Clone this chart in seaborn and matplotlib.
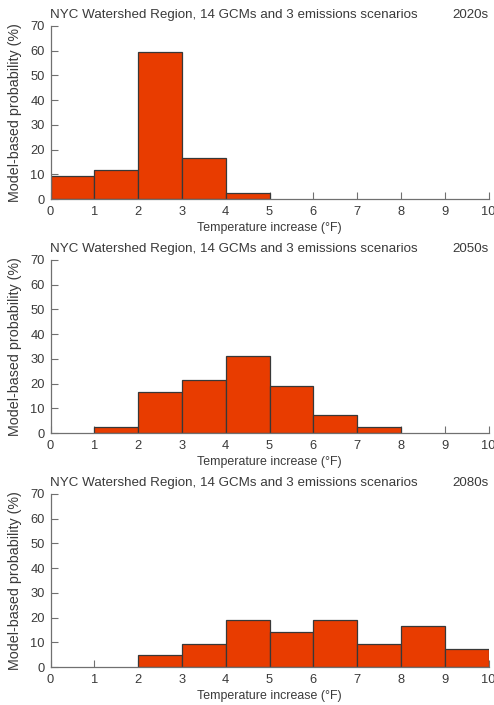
import numpy as np
import pandas as pd
import matplotlib
matplotlib.use("Agg")
import matplotlib.pyplot as plt
import seaborn as sns

# bin edges (deg F) and model-based probability (%) per bin, 42 model runs
edges = np.arange(0, 11)
periods = ["2020s", "2050s", "2080s"]
prob_2020s = [9.5, 11.9, 59.5, 16.7, 2.4, 0, 0, 0, 0, 0]
prob_2050s = [0, 2.4, 16.7, 21.4, 31.0, 19.0, 7.1, 2.4, 0, 0]
prob_2080s = [0, 0, 4.8, 9.5, 19.0, 14.3, 19.0, 9.5, 16.7, 7.1]
title = "NYC Watershed Region, 14 GCMs and 3 emissions scenarios"
xlabel = "Temperature increase (\u00b0F)"
ylabel = "Model-based probability (%)"

sns.set_style("ticks")
plt.rcParams["font.family"] = ["Liberation Sans", "DejaVu Sans"]
text_col = "#3a3a3a"

fig = plt.figure(figsize=(4.94, 7.05), dpi=100)
bottoms = [1 - 199 / 705, 1 - 433 / 705, 1 - 667 / 705]
height = 173 / 705

for period, probs, bot in zip(periods, [prob_2020s, prob_2050s, prob_2080s], bottoms):
    ax = fig.add_axes([50.5 / 494, bot, 438 / 494, height])
    df = pd.DataFrame({"temp": edges[:-1] + 0.5, "prob": probs})
    sns.histplot(data=df, x="temp", weights="prob", binwidth=1, binrange=(0, 10),
                 ax=ax, color="#E83C00", alpha=1, edgecolor="#383838", linewidth=0.9)
    # drop empty bins
    for p in list(ax.patches):
        if p.get_height() == 0:
            p.remove()
    ax.set_xlim(0, 10)
    ax.set_ylim(0, 70)
    ax.set_xticks(range(0, 11))
    ax.set_yticks(range(0, 71, 10))
    ax.tick_params(direction="in", length=5, width=0.8, labelsize=9.3,
                   colors="#707070", labelcolor=text_col)
    ax.tick_params(axis="x", pad=5)
    ax.tick_params(axis="y", pad=4)
    ax.set_xlabel(xlabel, fontsize=8.9, color=text_col, labelpad=3)
    ax.set_ylabel(ylabel, fontsize=10.3, color=text_col, labelpad=6)
    sns.despine(ax=ax)
    for s in ["left", "bottom"]:
        ax.spines[s].set_color("#707070")
        ax.spines[s].set_linewidth(0.9)
    ax.text(0, 1.03, title, transform=ax.transAxes, ha="left", va="bottom",
            fontsize=9.6, color=text_col)
    ax.text(1.0, 1.03, period, transform=ax.transAxes, ha="right", va="bottom",
            fontsize=9.6, color=text_col)

fig.savefig("out.png", dpi=100)
